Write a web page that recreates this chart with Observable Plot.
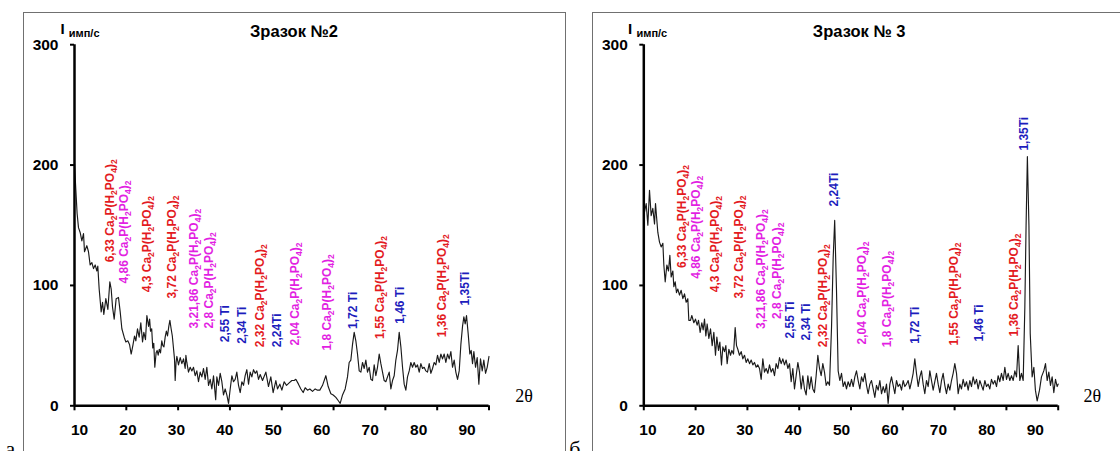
<!DOCTYPE html>
<html><head><meta charset="utf-8">
<script src="https://cdn.jsdelivr.net/npm/d3@7"></script>
<script src="https://cdn.jsdelivr.net/npm/@observablehq/plot@0.6"></script>
<style>
html,body{margin:0;padding:0;background:#fff;}
#wrap{position:relative;width:1120px;height:451px;overflow:hidden;font-family:"Liberation Sans",Arial,sans-serif;background:#fff;}
.panel{position:absolute;top:0;width:560px;height:451px;}
.panel svg{position:absolute;left:0;top:0;overflow:visible;background:transparent;}
.frame{position:absolute;border:1px solid #707070;box-sizing:border-box;}
</style></head><body><div id="wrap"></div>
<script>
// ---------- data: sample No.2 ----------
const theta2 = [10.0,10.25,10.5,10.77,11.09,11.42,11.74,11.93,12.38,12.70,13.02,13.35,13.67,13.99,14.31,14.50,14.76,15.15,15.41,15.66,16.05,16.44,16.82,17.08,17.34,17.66,18.04,18.49,18.82,19.14,19.59,19.91,20.29,20.62,20.94,21.26,21.58,21.84,22.16,22.48,22.80,23.13,23.38,23.70,23.97,24.30,24.50,24.67,24.90,25.10,25.30,25.50,25.75,25.95,26.15,26.37,26.60,26.85,27.05,27.26,27.50,27.73,27.95,28.20,28.41,28.65,28.88,29.10,29.30,29.43,29.60,29.76,30.07,30.40,30.72,31.04,31.36,31.50,31.68,32.00,32.33,32.65,32.97,33.29,33.61,33.93,34.26,34.58,34.90,35.22,35.54,35.87,36.19,36.51,36.83,37.25,37.47,37.80,38.12,38.44,38.76,39.08,39.40,39.73,40.05,40.37,40.69,41.01,41.33,41.66,41.98,42.30,42.62,42.94,43.26,43.59,43.91,44.23,44.55,44.87,45.19,45.52,45.84,46.29,46.93,47.44,47.89,48.34,48.86,49.18,49.63,50.02,50.47,50.92,51.43,51.95,52.40,52.72,53.23,53.69,54.14,54.52,54.97,55.42,55.94,56.45,56.90,57.35,57.87,58.51,58.96,59.48,59.93,60.44,60.96,61.28,61.73,62.24,62.69,63.01,63.34,63.66,63.98,64.30,64.62,64.95,65.27,65.59,65.91,66.23,66.55,66.88,67.20,67.52,67.84,68.16,68.48,68.81,69.13,69.45,69.77,70.09,70.41,70.74,71.06,71.38,71.70,72.02,72.34,72.67,72.99,73.31,73.63,73.95,74.27,74.60,74.92,75.24,75.56,75.88,76.20,76.53,76.85,77.17,77.49,77.81,78.13,78.46,78.78,79.10,79.42,79.74,80.06,80.39,80.71,81.03,81.35,81.67,82.00,82.32,82.64,82.96,83.28,83.60,83.93,84.25,84.57,84.89,85.15,85.40,85.66,85.98,86.30,86.56,86.82,87.08,87.40,87.72,88.04,88.36,88.69,89.00,89.33,89.65,90.00];
const int2 = [201,180,160,148,144,137,143,128,133,128,117,119,114,117,112,116,97,78,86,76,89,80,103,97,82,72,89,90,78,64,57,53,54,51,43,50,58,54,64,57,69,53,61,55,75,66,72,62,64,48,52,32,44,46,42,47,44,54,50,49,57,62,58,66,71,64,58,48,39,21,36,41,34,40,35,39,31,42,36,28,32,29,32,25,29,20,28,24,31,22,32,17,22,14,25,5,24,17,27,20,9,14,9,2,14,25,20,22,28,17,11,20,17,25,30,18,28,24,30,27,29,22,26,21,28,16,24,11,21,14,18,13,20,17,19,21,21,22,18,14,11,15,13,14,12,14,13,13,17,25,16,10,9,7,4,2,9,14,24,36,38,51,61,54,43,29,28,36,31,38,28,32,22,21,34,25,32,43,35,28,21,20,24,28,14,21,25,38,46,61,49,32,18,13,24,29,36,32,36,32,34,28,35,31,32,29,28,35,27,31,36,34,42,36,43,39,43,36,43,39,45,32,38,28,22,29,51,66,74,68,75,60,43,46,35,45,32,40,18,39,29,38,27,32,41];

// ---------- data: sample No.3 ----------
const theta3 = [10.0,10.14,10.46,10.78,11.10,11.42,11.74,12.07,12.26,12.52,12.71,13.03,13.35,13.68,13.87,14.13,14.45,14.77,15.03,15.28,15.61,15.80,16.06,16.31,16.57,16.89,17.21,17.54,17.86,18.18,18.50,18.69,19.01,19.27,19.66,19.98,20.30,20.56,20.88,21.20,21.46,21.72,21.98,22.23,22.56,22.88,23.20,23.52,23.84,24.10,24.42,24.68,25.00,25.26,25.58,25.84,26.09,26.42,26.74,27.00,27.32,27.64,27.90,28.15,28.47,28.80,29.12,29.44,29.76,30.08,30.41,30.73,31.05,31.37,31.69,32.00,32.34,32.66,32.98,33.30,33.62,33.95,34.27,34.59,34.91,35.23,35.55,35.88,36.20,36.52,36.84,37.16,37.48,37.81,38.13,38.45,38.77,39.09,39.41,39.74,40.06,40.38,40.70,41.02,41.34,41.67,41.99,42.31,42.63,42.95,43.27,43.60,43.92,44.24,44.56,44.88,45.21,45.53,45.85,46.24,46.56,46.85,47.20,47.52,47.84,48.17,48.49,48.81,49.13,49.45,49.77,50.10,50.42,50.74,51.06,51.38,51.71,52.03,52.35,52.67,53.00,53.31,53.64,53.96,54.28,54.60,54.92,55.24,55.57,55.89,56.21,56.53,56.85,57.17,57.50,57.82,58.14,58.46,58.78,59.10,59.43,59.75,60.07,60.39,60.71,61.03,61.36,61.68,62.00,62.32,62.64,62.97,63.29,63.61,63.93,64.25,64.57,64.90,65.22,65.54,65.86,66.18,66.50,66.83,67.15,67.47,67.79,68.11,68.43,68.76,69.08,69.40,69.72,70.04,70.37,70.69,71.01,71.33,71.65,71.98,72.30,72.62,72.94,73.26,73.58,73.91,74.23,74.55,74.87,75.19,75.51,75.84,76.16,76.48,76.80,77.12,77.45,77.77,78.09,78.41,78.73,79.05,79.38,79.70,80.02,80.34,80.66,80.98,81.31,81.63,81.95,82.27,82.59,82.91,83.24,83.56,83.80,84.05,84.35,84.60,84.97,85.30,85.60,85.94,86.39,86.77,87.22,87.55,87.87,88.19,88.51,88.83,89.15,89.48,89.80,90.00];
const int3 = [158,161,168,150,179,158,164,151,168,154,144,136,132,135,117,103,117,112,125,107,112,99,103,94,97,92,96,89,93,86,89,71,71,75,69,72,67,71,61,69,63,72,58,68,56,64,50,61,42,57,46,53,34,49,45,50,35,47,42,46,43,65,50,47,42,45,39,42,36,39,35,38,34,36,32,34,31,22,39,28,31,27,34,28,31,25,35,31,40,35,39,34,38,31,35,20,31,14,25,36,28,14,25,14,9,25,14,24,14,11,25,42,31,25,35,28,17,20,17,65,123,154,96,29,21,27,16,20,14,20,16,22,16,24,29,21,14,24,20,27,17,10,18,21,14,7,17,13,21,10,16,11,18,2,18,24,17,10,21,16,18,13,21,16,18,21,14,20,27,39,27,16,24,29,18,10,21,16,29,21,13,20,27,18,11,21,27,17,10,18,13,21,27,35,27,10,18,14,22,16,20,13,21,16,24,18,22,14,21,17,13,21,16,18,14,22,18,21,16,25,20,27,21,32,22,27,21,25,21,29,24,50,21,27,21,82,150,207,150,60,24,32,13,4,13,24,29,35,21,28,17,24,11,22,16,18];

// ---------- peak annotations ----------
const peakLabels = ["6,33 Ca₂P(H₂PO₄)₂","4,86 Ca₂P(H₂PO₄)₂","4,3 Ca₂P(H₂PO₄)₂","3,72 Ca₂P(H₂PO₄)₂","3,21,86 Ca₂P(H₂PO₄)₂","2,8 Ca₂P(H₂PO₄)₂","2,55 Ti","2,34 Ti","2,32 Ca₂P(H₂PO₄)₂","2,24Ti","2,04 Ca₂P(H₂PO₄)₂","1,8 Ca₂P(H₂PO₄)₂","1,72 Ti","1,55 Ca₂P(H₂PO₄)₂","1,46 Ti","1,36 Ca₂P(H₂PO₄)₂","1,35Ti"];
const peakPhase = ["A","B","A","A","B","B","Ti","Ti","A","Ti","B","B","Ti","A","Ti","A","Ti"];
const lab2x = [16.85,19.55,24.08,28.81,33.16,36.06,39.05,42.37,45.81,49.18,52.66,58.83,63.85,68.97,72.92,80.93,85.47];
const lab2y = [119.2,101.6,94.3,89.1,64.2,64.2,52.8,51.5,48.7,48.7,50.1,45.9,63.9,55.6,68.1,57.0,83.4];
const lab3x = [17.37,20.17,23.71,28.34,32.72,35.81,38.32,41.41,44.69,46.68,52.22,56.95,62.36,69.98,74.8,81.56,83.4];
const lab3y = [114.5,105.5,94.3,89.1,63.9,72.2,55.9,54.2,48.7,165.6,50.9,48.7,51.5,50.1,53.4,57.5,212.0];

const xTicks = [10,20,30,40,50,60,70,80,90];
const yTicks = [0,100,200,300];
const titles = ["Зразок №2","Зразок № 3"];
const panelLetters = ["а","б"];
const yName = "I";
const yUnit = "имп/с";
const xName = "2θ";
const phaseColors = {domain:["A","B","Ti"], range:["#e31b1f","#e21fe2","#1d1dbd"]};

// ---------- layout ----------
const panels = [
  {left:0, ml:74, mr:71.5, lml:79, lmr:93.4, titleDx:219.5, iDx:-11.8, unitDx:-5.7, thDx:35, letDx:-69,
   frame:{left:23, top:12, width:543, height:520}, theta:theta2, ints:int2, lx:lab2x, ly:lab2y},
  {left:560, ml:83.3, mr:62.3, lml:87.4, lmr:85.2, titleDx:215.4, iDx:-13.6, unitDx:-7.3, thDx:34, letDx:-74.6,
   frame:{left:592, top:12, width:600, height:520}, theta:theta3, ints:int3, lx:lab3x, ly:lab3y}
];
const MT = 44.2, MB = 45.7, W = 560, H = 451;

function subscriptify(svg){
  svg.querySelectorAll("text").forEach(t=>{
    const s = t.textContent;
    if(!/[₂₄]/.test(s)) return;
    t.textContent = "";
    let prevSub = false;
    for(const p of s.split(/([₂₄])/)){
      if(!p) continue;
      const ts = document.createElementNS("http://www.w3.org/2000/svg","tspan");
      if(p==="₂"||p==="₄"){
        ts.textContent = p==="₂"?"2":"4";
        ts.setAttribute("font-size","8.5");
        if(!prevSub) ts.setAttribute("dy","3");
        prevSub = true;
      } else {
        ts.textContent = p;
        if(prevSub) ts.setAttribute("dy","-3");
        prevSub = false;
      }
      t.appendChild(ts);
    }
  });
}

const wrap = document.getElementById("wrap");
panels.forEach((cfg,k)=>{
  const fr = document.createElement("div");
  fr.className = "frame";
  Object.assign(fr.style,{left:cfg.frame.left+"px",top:cfg.frame.top+"px",width:cfg.frame.width+"px",height:cfg.frame.height+"px"});
  wrap.appendChild(fr);

  const div = document.createElement("div");
  div.className = "panel";
  div.style.left = cfg.left+"px";
  wrap.appendChild(div);

  const series = cfg.theta.map((t,i)=>({t, v:cfg.ints[i]}));
  const labs = peakLabels.map((s,i)=>({s, x:cfg.lx[i], y:cfg.ly[i], phase:peakPhase[i]}));

  const main = Plot.plot({
    width:W, height:H, marginLeft:cfg.ml, marginRight:cfg.mr, marginTop:MT, marginBottom:MB,
    x:{domain:[10,90]}, y:{domain:[0,300]},
    color:{type:"ordinal", ...phaseColors},
    style:{fontFamily:"'Liberation Sans', Arial, sans-serif", background:"transparent", overflow:"visible", color:"#000"},
    marks:[
      Plot.line(series,{x:"t", y:"v", stroke:"#1a1a1a", strokeWidth:1.15}),
      Plot.axisX({ticks:xTicks, tickSize:5, tickFormat:()=>"", strokeWidth:2}),
      Plot.axisY({ticks:yTicks, tickSize:4, tickPadding:12, fontSize:15.5, fontWeight:"bold", strokeWidth:2}),
      Plot.ruleY([0],{stroke:"#000", strokeWidth:2.5}),
      Plot.ruleX([10],{y1:0, y2:300, stroke:"#000", strokeWidth:2.5}),
      Plot.text(labs,{x:"x", y:"y", text:"s", fill:"phase", rotate:-90, textAnchor:"start", lineAnchor:"middle", fontSize:12, fontWeight:"bold"}),
      Plot.text([titles[k]],{frameAnchor:"top-left", dx:cfg.titleDx, dy:-7.5, textAnchor:"middle", lineAnchor:"bottom", fontSize:16.5, fontWeight:"bold", fill:"#000"}),
      Plot.text([yName],{frameAnchor:"top-left", dx:cfg.iDx, dy:-10.9, textAnchor:"middle", lineAnchor:"bottom", fontSize:15, fontWeight:"bold", fill:"#000"}),
      Plot.text([yUnit],{frameAnchor:"top-left", dx:cfg.unitDx, dy:-8.2, textAnchor:"start", lineAnchor:"bottom", fontSize:11, fontWeight:"bold", fill:"#000"}),
      Plot.text([xName],{frameAnchor:"bottom-right", dx:cfg.thDx, dy:-3.6, textAnchor:"middle", lineAnchor:"bottom", fontSize:18, fontFamily:"'Liberation Serif', serif", fill:"#000"}),
      Plot.text([panelLetters[k]],{frameAnchor:"bottom-left", dx:cfg.letDx, dy:49.7, textAnchor:"start", lineAnchor:"bottom", fontSize:22, fontFamily:"'Liberation Serif', serif", fill:"#000"})
    ]
  });
  subscriptify(main);
  div.appendChild(main);

  const lbl = Plot.plot({
    width:W, height:H, marginLeft:cfg.lml, marginRight:cfg.lmr, marginTop:MT, marginBottom:MB,
    x:{domain:[10,90]}, y:{domain:[0,300], axis:null},
    style:{fontFamily:"'Liberation Sans', Arial, sans-serif", background:"transparent", overflow:"visible", color:"#000"},
    marks:[
      Plot.axisX({ticks:xTicks, tickSize:0, tickPadding:18, fontSize:15.5, fontWeight:"bold"})
    ]
  });
  div.appendChild(lbl);
});
</script></body></html>
